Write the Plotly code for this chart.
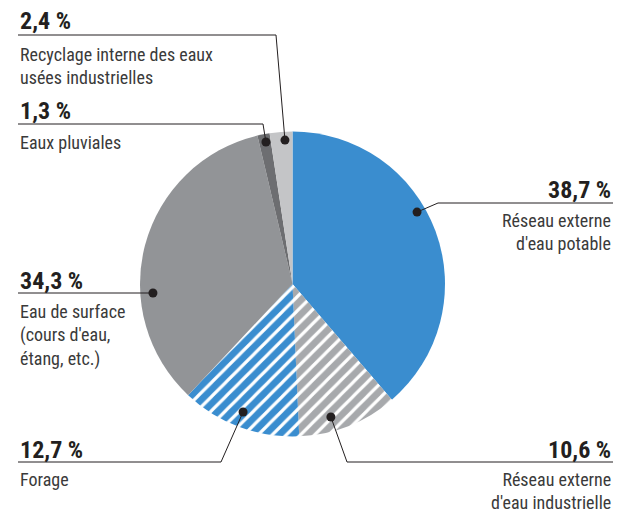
import math
import plotly.graph_objects as go

# -- data
labels = [
    "Réseau externe<br>d'eau potable",
    "Réseau externe<br>d'eau industrielle",
    "Forage",
    "Eau de surface<br>(cours d'eau,<br>étang, etc.)",
    "Eaux pluviales",
    "Recyclage interne des eaux<br>usées industrielles",
]
values = [38.7, 10.6, 12.7, 34.3, 1.3, 2.4]
pct_text = ["38,7 %", "10,6 %", "12,7 %", "34,3 %", "1,3 %", "2,4 %"]

colors = ["#3a8dcf", "#a7a9ac", "#3a8dcf", "#929497", "#6d6e71", "#c4c5c7"]
hatched = [False, True, True, False, False, False]

W, H = 618, 512
CX, CY, R = 292.5, 284.0, 152.5

# -- dot on each slice: (angle clockwise from 12 o'clock, fraction of radius)
dot_pos = [(60.0, 0.943), (163.9, 0.908), (201.1, 0.90), (266.3, 0.917), (349.4, 0.947), (357.0, 0.945)]
# -- leader line: elbow point and far end of the horizontal rule
elbows = [(438, 203), (347, 462), (221, 462), (153, 293), (263, 124), (276, 35)]
rule_end = [613, 613, 18, 18, 18, 18]
# -- text blocks: x anchor, y of percent, y of first label line, alignment
text_pos = [
    (613, 190, 208, "right"),
    (613, 450, 467, "right"),
    (18, 450, 467, "left"),
    (18, 281, 299, "left"),
    (18, 111, 130, "left"),
    (18, 21, 42, "left"),
]

font_family = "Liberation Sans Narrow, Roboto Condensed, Arial Narrow, Liberation Sans, sans-serif"
ink = "#231f20"

fig = go.Figure()

fig.add_trace(go.Pie(
    values=values,
    labels=[l.replace("<br>", " ") for l in labels],
    sort=False,
    direction="clockwise",
    rotation=0,
    textinfo="none",
    hoverinfo="label+value",
    showlegend=False,
    marker=dict(
        colors=colors,
        line=dict(width=0),
        pattern=dict(
            shape=["/" if h else "" for h in hatched],
            fgcolor="white",
            bgcolor=colors,
            size=10,
            solidity=0.32,
            fillmode="replace",
        ),
    ),
    domain=dict(x=[(CX - R) / W, (CX + R) / W], y=[1 - (CY + R) / H, 1 - (CY - R) / H]),
))

# leader lines + dots (shapes, so they sit above the pie layer)
for i, (ang, fr) in enumerate(dot_pos):
    a = math.radians(ang)
    px = CX + R * fr * math.sin(a)
    py = CY - R * fr * math.cos(a)
    ex, ey = elbows[i]
    fig.add_shape(
        type="path", path=f"M{px},{py} L{ex},{ey} L{rule_end[i]},{ey}",
        xref="x", yref="y", layer="above", line=dict(color=ink, width=1),
    )
    fig.add_shape(
        type="circle", x0=px - 4.5, x1=px + 4.5, y0=py - 4.5, y1=py + 4.5,
        xref="x", yref="y", layer="above", fillcolor=ink, line=dict(width=0),
    )

for i, (tx, py, ly, al) in enumerate(text_pos):
    fig.add_annotation(
        x=tx, y=py, text="<b>" + pct_text[i] + "</b>", showarrow=False,
        xanchor=al, yanchor="middle", xref="x", yref="y",
        font=dict(family=font_family, size=24, color=ink),
    )
    fig.add_annotation(
        x=tx, y=ly, text=labels[i], showarrow=False, align=al,
        xanchor=al, yanchor="top", xref="x", yref="y",
        font=dict(family=font_family, size=18, color="#3a3a3a"),
    )

fig.update_layout(
    width=W, height=H,
    margin=dict(l=0, r=0, t=0, b=0),
    paper_bgcolor="white", plot_bgcolor="rgba(0,0,0,0)",
    xaxis=dict(range=[0, W], visible=False, fixedrange=True),
    yaxis=dict(range=[H, 0], visible=False, fixedrange=True),
)

# the page body has a default 8px margin; drop it so the chart fills the window
fig.write_html(
    "out.html",
    config={"displayModeBar": False},
    post_script="document.body.style.margin='0px';",
)
